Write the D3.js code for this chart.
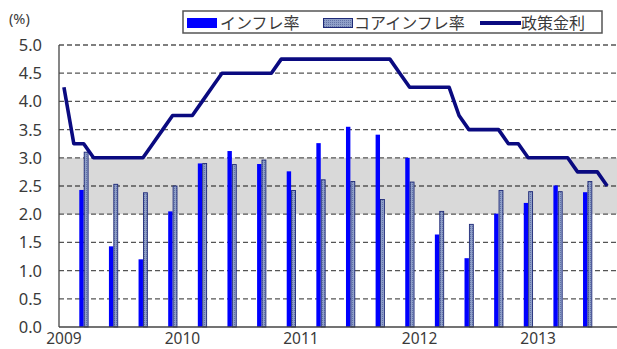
<!DOCTYPE html>
<html>
<head>
<meta charset="utf-8">
<script src="https://cdn.jsdelivr.net/npm/d3@7"></script>
<style>
  body { margin: 0; background: #fff; }
  svg { display: block; font-family: "Noto Sans", "Noto Sans CJK JP", sans-serif; }
</style>
</head>
<body>
<svg width="617" height="349"></svg>
<script>
// axis labels
const years = ["2009", "2010", "2011", "2012", "2013"];
const yTicks = [0, 0.5, 1, 1.5, 2, 2.5, 3, 3.5, 4, 4.5, 5];

// policy rate, monthly from 2009-01
const policyRate = [
    4.25, 3.25, 3.25, 3.0, 3.0, 3.0, 3.0, 3.0, 3.0, 3.25, 3.5, 3.75,
    3.75, 3.75, 4.0, 4.25, 4.5, 4.5, 4.5, 4.5, 4.5, 4.5, 4.75, 4.75,
    4.75, 4.75, 4.75, 4.75, 4.75, 4.75, 4.75, 4.75, 4.75, 4.75, 4.5, 4.25,
    4.25, 4.25, 4.25, 4.25, 3.75, 3.5, 3.5, 3.5, 3.5, 3.25, 3.25, 3.0,
    3.0, 3.0, 3.0, 3.0, 2.75, 2.75, 2.75, 2.5
];

// quarterly inflation, at quarter-end months
const quarters = [
    "2009-03", "2009-06", "2009-09", "2009-12",
    "2010-03", "2010-06", "2010-09", "2010-12",
    "2011-03", "2011-06", "2011-09", "2011-12",
    "2012-03", "2012-06", "2012-09", "2012-12",
    "2013-03", "2013-06"
];
const inflation = [2.43, 1.43, 1.2, 2.05, 2.9, 3.12, 2.89, 2.76, 3.26, 3.55, 3.41, 3.0, 1.64, 1.22, 2.01, 2.2, 2.51, 2.39];
const coreInflation = [3.1, 2.53, 2.38, 2.5, 2.9, 2.88, 2.96, 2.42, 2.61, 2.58, 2.26, 2.57, 2.05, 1.82, 2.42, 2.4, 2.4, 2.58];

const targetBand = [2, 3];

// months on the x axis (2009-01 .. 2013-09)
const months = [];
years.forEach(y => {
    for (let m = 1; m <= 12; m++) months.push(y + "-" + String(m).padStart(2, "0"));
});
months.splice(57);

const svg = d3.select("svg");
const plotLeft = 59, plotRight = 622, plotTop = 45, plotBottom = 327;

const x = d3.scaleBand().domain(months).range([plotLeft, plotRight]).padding(0);
const y = d3.scaleLinear().domain([0, 5]).range([plotBottom, plotTop]);
const cx = (m) => x(m) + x.bandwidth() / 2;

const textColor = "#3a3a3a";

// target band
svg.append("rect")
    .attr("x", plotLeft)
    .attr("y", y(targetBand[1]))
    .attr("width", plotRight - plotLeft)
    .attr("height", y(targetBand[0]) - y(targetBand[1]))
    .attr("fill", "#d9d9d9");

// grid
svg.selectAll(".grid")
    .data(yTicks.filter(d => d > 0))
    .enter().append("line")
        .attr("x1", plotLeft)
        .attr("x2", plotRight)
        .attr("y1", d => y(d))
        .attr("y2", d => y(d))
        .attr("stroke", "#555")
        .attr("stroke-width", 1.3)
        .attr("stroke-dasharray", "5,3");

// pattern for core bars
const defs = svg.append("defs");
const pat = defs.append("pattern")
    .attr("id", "dots")
    .attr("width", 2)
    .attr("height", 2)
    .attr("patternUnits", "userSpaceOnUse");
pat.append("rect").attr("width", 2).attr("height", 2).attr("fill", "#8f9fc8");
pat.append("rect").attr("width", 1).attr("height", 1).attr("fill", "#6373a6");

// bars
const barW = 4.4;
const inflData = quarters.map((q, i) => ({ q: q, v: inflation[i] }));
const coreData = quarters.map((q, i) => ({ q: q, v: coreInflation[i] }));

svg.selectAll(".infl")
    .data(inflData)
    .enter().append("rect")
        .attr("x", d => cx(d.q) - barW)
        .attr("y", d => y(d.v))
        .attr("width", barW)
        .attr("height", d => y(0) - y(d.v))
        .attr("fill", "#0000ff");

svg.selectAll(".core")
    .data(coreData)
    .enter().append("rect")
        .attr("x", d => cx(d.q) + 0.5)
        .attr("y", d => y(d.v))
        .attr("width", barW - 0.5)
        .attr("height", d => y(0) - y(d.v))
        .attr("fill", "url(#dots)")
        .attr("stroke", "#1f2a78")
        .attr("stroke-width", 0.9);

// policy rate line
const line = d3.line()
    .x((d, i) => cx(months[i]))
    .y(d => y(d));

svg.append("path")
    .datum(policyRate)
    .attr("d", line)
    .attr("fill", "none")
    .attr("stroke", "#0a0a80")
    .attr("stroke-width", 3.6)
    .attr("stroke-linejoin", "round");

// axes lines
svg.append("line")
    .attr("x1", plotLeft).attr("x2", plotLeft)
    .attr("y1", plotTop).attr("y2", plotBottom)
    .attr("stroke", "#444").attr("stroke-width", 1.3);
svg.append("line")
    .attr("x1", plotLeft).attr("x2", plotRight)
    .attr("y1", plotBottom).attr("y2", plotBottom)
    .attr("stroke", "#444").attr("stroke-width", 1.3);

// y labels
svg.selectAll(".ylab")
    .data(yTicks)
    .enter().append("text")
        .attr("x", 42)
        .attr("y", d => y(d))
        .attr("dy", "0.36em")
        .attr("text-anchor", "end")
        .attr("font-size", 16.5)
        .attr("fill", textColor)
        .text(d3.format(".1f"));

svg.append("text")
    .attr("x", 9)
    .attr("y", 24)
    .attr("font-size", 14.5)
    .attr("fill", textColor)
    .text("(%)");

// x labels
svg.selectAll(".xlab")
    .data(years)
    .enter().append("text")
        .attr("x", d => cx(d + "-01"))
        .attr("y", 344)
        .attr("text-anchor", "middle")
        .attr("font-size", 15.5)
        .attr("fill", textColor)
        .text(d => d);

// legend
const lg = svg.append("g");
lg.append("rect")
    .attr("x", 183).attr("y", 11)
    .attr("width", 419).attr("height", 22)
    .attr("fill", "#fff")
    .attr("stroke", "#555")
    .attr("stroke-width", 1.5);
lg.append("rect")
    .attr("x", 187).attr("y", 18).attr("width", 30).attr("height", 10)
    .attr("fill", "#0000ff");
lg.append("text")
    .attr("x", 220).attr("y", 28.5)
    .attr("font-size", 16).attr("fill", textColor)
    .text("インフレ率");
lg.append("rect")
    .attr("x", 323.5).attr("y", 18.5).attr("width", 29).attr("height", 9)
    .attr("fill", "url(#dots)")
    .attr("stroke", "#1f2a78").attr("stroke-width", 1);
lg.append("text")
    .attr("x", 354).attr("y", 28.5)
    .attr("font-size", 16).attr("fill", textColor)
    .text("コアインフレ率");
lg.append("line")
    .attr("x1", 480).attr("x2", 521)
    .attr("y1", 23).attr("y2", 23)
    .attr("stroke", "#0a0a80").attr("stroke-width", 4);
lg.append("text")
    .attr("x", 521).attr("y", 28.5)
    .attr("font-size", 16).attr("fill", textColor)
    .text("政策金利");
</script>
</body>
</html>
